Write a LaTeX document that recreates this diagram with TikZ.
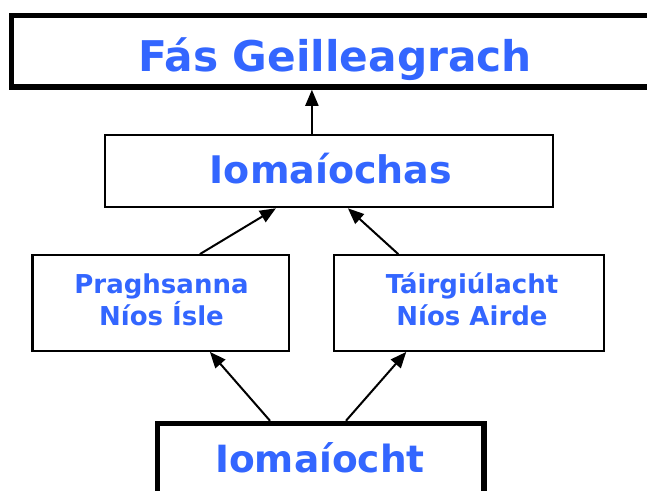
\documentclass[tikz,border=0pt]{standalone}
\usepackage{fontspec}
\setmainfont{DejaVu Sans}
\usetikzlibrary{arrows.meta,calc}
\definecolor{txtblue}{RGB}{51,102,255}
\tikzset{
  thinbox/.style={draw=black, line width=2.2pt, fill=white, inner sep=0pt, rectangle},
  thickbox/.style={draw=black, line width=5.5pt, fill=white, inner sep=0pt, rectangle},
  lbl/.style={text=txtblue, font=\bfseries, inner sep=0pt, anchor=base},
  arr/.style={line width=2pt, -{Triangle[length=16pt,width=13pt]}}
}
\begin{document}
\begin{tikzpicture}[x=1pt,y=-1pt]
\useasboundingbox (0,0) rectangle (647,490);
% boxes
\node[thickbox, minimum width=647pt, minimum height=71.5pt] (top) at (335,51.25) {};
\node[thinbox, minimum width=447.5pt, minimum height=72pt] (iom) at (328.9,171.2) {};
\node[thinbox, minimum width=256.8pt, minimum height=95.6pt] (left) at (160.9,303) {};
\node[thinbox, minimum width=269.9pt, minimum height=95.6pt] (right) at (469.25,303) {};
\node[thickbox, minimum width=326.7pt, minimum height=100pt] (bot) at (320.65,473.5) {};
% labels
\node[lbl, font=\bfseries\fontsize{42.3}{50}\selectfont] (ttop) at (335,71) {Fás Geilleagrach};
\node[lbl, font=\bfseries\fontsize{38}{44}\selectfont] (tiom) at (331,183) {Iomaíochas};
\node[lbl, font=\bfseries\fontsize{26}{32}\selectfont] (tl1) at (161.5,293) {Praghsanna};
\node[lbl, font=\bfseries\fontsize{26}{32}\selectfont] (tl2) at (161.5,325) {Níos Ísle};
\node[lbl, font=\bfseries\fontsize{26}{32}\selectfont] (tr1) at (472,293) {Táirgiúlacht};
\node[lbl, font=\bfseries\fontsize{26}{32}\selectfont] (tr2) at (472,325) {Níos Airde};
\node[lbl, font=\bfseries\fontsize{37.5}{44}\selectfont] (tbot) at (320,472) {Iomaíocht};
% connectors
\draw[arr] ([xshift=-17pt]iom.north) coordinate (s1) -- (s1 |- top.south);
\draw[arr] ([xshift=39pt]left.north) -- ([xshift=-53pt]iom.south);
\draw[arr] ([xshift=-71pt]right.north) -- ([xshift=19pt]iom.south);
\draw[arr] ([xshift=-50.65pt]bot.north) -- ([xshift=49pt]left.south);
\draw[arr] ([xshift=25.35pt]bot.north) -- ([xshift=-63pt]right.south);
\end{tikzpicture}
\end{document}
